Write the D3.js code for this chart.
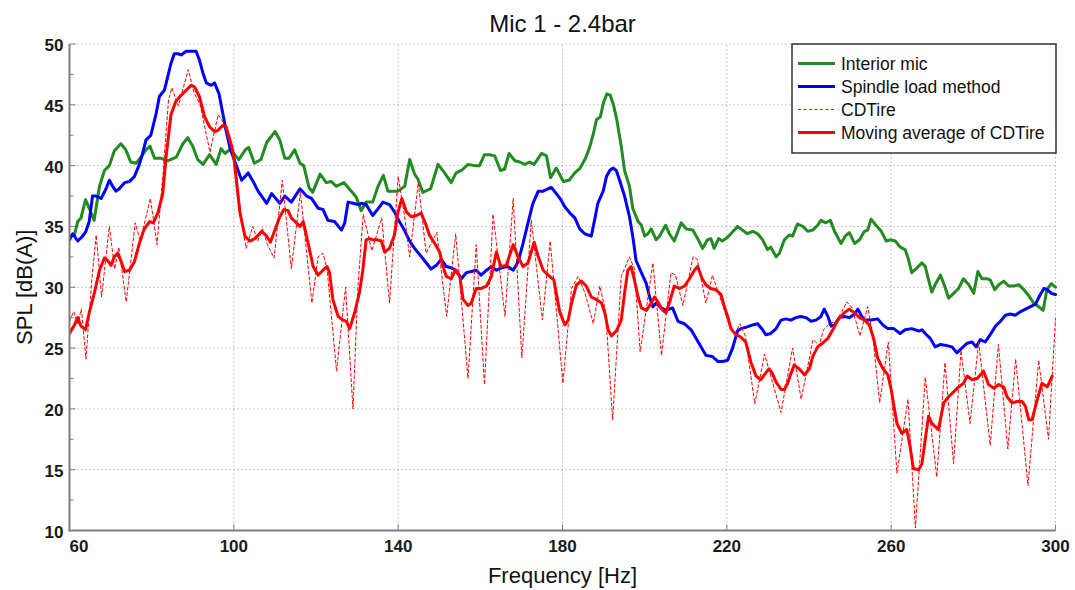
<!DOCTYPE html>
<html>
<head>
<meta charset="utf-8">
<script src="https://cdn.jsdelivr.net/npm/d3@7"></script>
<style>
  html, body { margin: 0; padding: 0; background: #ffffff; }
  svg { display: block; }
</style>
</head>
<body>
<div id="chart"></div>
<script>
// ---------------- DATA ----------------
const chartTitle = "Mic 1 - 2.4bar";
const xLabel = "Frequency [Hz]";
const yLabel = "SPL [dB(A)]";
const xTicks = [60, 100, 140, 180, 220, 260, 300];
const yTicks = [10, 15, 20, 25, 30, 35, 40, 45, 50];
const seriesNames = ["Interior mic", "Spindle load method", "CDTire", "Moving average of CDTire"];

const micFreq = [60,61.2,62,62.8,63.9,64.8,66,67.3,68.5,69.7,70.9,72.5,73.7,74.9,76.2,77.4,78.6,79.6,80.7,82.3,83.9,86,87.6,88.8,90,91.2,92.5,94.1,95.7,96.9,97.8,99,100.2,101.2,102.8,103.6,105,106.6,108,110,111.2,112.4,113.4,114.8,116.1,117,118.3,119.2,121,122.5,123.7,124.9,126.8,128.6,129.8,131,132.2,133.8,135.1,136.4,137.5,138.7,140,141.6,142.8,144,144.8,146,147.9,149.7,151.3,152.9,154.1,155.4,157,158.6,159.8,161,162.3,163.5,164.9,165.9,167,168.4,169.6,170.8,172,173.1,174.9,176.1,177.1,178.5,180.2,181.6,183,184.3,185.6,186.6,187.5,188.3,189.2,190,190.8,191.6,192.4,193.2,194.3,195.1,196.3,197.1,198.4,199.2,200,200.8,201.6,202.8,203.6,205.1,206,207.2,208.9,210.1,211.7,212.9,214.1,215.3,216.1,216.9,218,218.9,219.8,221,222.6,223.8,225,226.3,227.5,228.7,229.9,230.7,232,232.8,234,235.2,236,237.2,238.5,239.7,240.9,242.1,242.9,244.1,245.2,246.2,247.8,248.8,249.8,251.1,252.3,253.5,254.3,255.1,256.3,257.6,258.8,259.8,261,262.2,263.4,264.2,265,266.3,267.5,268.3,269.1,269.9,270.7,272,272.8,274,275.2,276.4,277.6,278.9,280.1,281.1,282.1,283.3,284.1,285.2,286.2,287.4,288.6,289.8,291.1,292.3,293.5,294.7,295.9,297,297.9,299,300];
const micSpl = [34.2,34.3,35.4,35.7,37.2,36.5,35.5,38.3,39.6,40.0,41.2,41.8,41.3,40.3,40.2,40.7,41.3,41.6,40.6,40.6,40.4,40.7,41.8,42.3,41.6,40.5,40.1,40.9,40.1,41.4,41.0,41.3,40.9,40.5,41.3,41.5,40.2,40.5,41.9,42.8,42.1,40.6,40.6,41.3,40.2,40.0,38.2,37.8,39.3,38.6,38.7,38.3,38.6,37.9,37.4,36.3,37.0,37.0,38.3,39.2,37.9,37.9,37.9,38.3,40.5,39.3,38.9,37.8,38.1,40.1,39.4,38.6,39.4,39.6,40.1,40.0,40.0,40.9,40.9,40.8,39.6,39.7,41.0,40.4,40.3,40.1,40.3,40.1,41.0,40.8,39.0,39.8,38.7,38.8,39.4,39.8,40.6,41.5,42.6,43.8,44.0,45.2,45.9,45.8,45.0,43.8,41.6,39.6,38.3,36.5,35.4,35.1,34.2,34.4,34.8,33.9,34.2,35.1,34.4,33.8,35.3,34.8,34.7,34.0,33.2,33.9,34.0,33.2,34.0,33.8,34.0,34.4,35.0,34.7,34.4,34.6,34.4,33.9,33.1,33.3,32.5,32.8,33.9,34.3,34.2,35.2,35.0,34.6,34.7,35.1,35.5,35.3,35.5,34.6,33.6,34.2,34.5,33.6,33.9,34.6,34.7,35.6,35.1,34.6,33.8,33.9,33.8,33.3,33.1,32.3,31.2,31.6,32.0,31.7,30.6,29.6,30.2,31.0,30.3,29.1,29.5,29.9,30.7,30.2,29.5,31.3,30.7,30.7,30.6,29.8,30.2,30.5,30.1,30.1,30.2,29.8,29.3,28.7,28.4,28.1,29.8,30.3,30.0];

const spindleFreq = [60,60.8,62,63.2,64,64.8,65.6,66.5,67.7,68.9,69.7,70.5,71.3,72.1,73.4,74.6,75.8,77,77.8,78.6,79.8,81.1,81.9,83.1,83.9,84.7,85.5,86.4,87.2,88.4,89.6,90.8,91.6,92.5,93.3,94.5,95.3,96.4,97.3,98.1,99.1,100.3,101.9,103.5,104.7,105.9,108,109.2,111.2,112.4,114,116.1,117.7,118.9,120.5,121.7,122.9,124.5,126.2,127,127.8,129,130.2,131,132.2,133.8,135,136.3,137.9,139.1,140.3,141.5,142.8,144,145.2,146.4,148,149.3,150.5,151.7,152.9,154.1,155.4,156.6,157.8,159,160.2,161.5,162.7,163.9,165.1,166.7,168,169.2,170.4,171.6,172.8,174.1,175.3,176.5,177.3,178.5,179.6,180.6,181.8,183,184.2,185.4,187,187.8,188.6,189.9,190.7,191.5,192.3,193.1,193.9,195.1,196.3,197.1,197.9,199.2,200.4,201.2,202,202.8,204,205.2,206.8,208.1,209.7,211.3,212.5,213.7,214.9,216.5,217.8,219,220.2,221.4,222.6,223.4,224.6,226.3,227.5,228.7,229.5,230.7,232,233.2,234.4,235.6,236.8,238,239.3,240.5,241.7,242.9,243.7,244.6,245.4,246.2,247.4,248.6,249.8,251.1,251.9,252.7,253.5,255.1,256.7,258,259.2,260.6,262.2,263.4,265,266.7,267.5,268.3,269.5,270.7,272,273.6,274.8,276,277.2,278.5,279.7,280.7,281.7,282.9,284.1,285.4,286.6,287.8,289,290.2,291.5,292.7,293.9,295.1,296.3,297.2,298,299,300];
const spindleSpl = [33.9,34.4,33.8,34.2,34.6,35.4,37.5,37.5,37.3,38.1,38.8,38.3,37.9,38.1,38.6,38.7,39.1,40.1,41.0,42.1,42.5,44.3,45.7,46.2,47.3,48.4,49.2,49.2,49.1,49.4,49.4,49.4,48.7,47.6,46.8,46.6,46.8,45.9,44.3,42.9,41.4,40.3,38.8,39.4,38.7,37.9,36.9,37.7,36.9,37.5,37.0,38.1,37.5,37.3,36.5,36.4,35.5,35.4,34.7,35.3,37.0,36.9,36.8,36.9,36.8,35.9,36.4,37.0,36.8,36.2,35.4,34.7,33.8,33.2,32.7,32.2,31.5,31.8,32.3,31.7,31.6,31.4,30.7,31.2,31.3,31.4,31.0,31.4,31.7,31.4,31.6,31.7,31.4,32.1,33.6,35.3,36.9,37.9,37.9,38.1,38.2,37.7,37.2,36.6,36.1,35.7,34.8,34.4,34.2,35.5,36.9,37.9,39.1,39.6,39.8,39.6,38.8,37.5,35.8,34.2,32.2,31.2,30.3,29.2,28.4,28.7,28.3,28.1,28.3,27.2,27.0,26.5,25.8,25.1,24.4,24.3,23.9,23.9,24.0,25.0,26.4,26.6,26.7,26.9,27.0,26.5,26.1,26.2,26.6,27.3,27.4,27.3,27.5,27.6,27.5,27.2,27.3,27.6,28.2,27.6,26.8,26.9,27.5,27.6,27.5,27.8,28.2,27.7,27.3,27.3,27.4,26.9,26.6,26.6,26.2,26.5,26.6,26.4,26.5,26.2,25.8,25.1,25.3,25.2,25.1,24.6,25.0,25.4,25.5,25.1,25.7,25.5,26.1,26.8,27.2,27.7,27.8,27.7,28.0,28.2,28.4,28.6,29.4,29.9,29.8,29.5,29.4];

const cdtireFreq = [60,61,62,62.9,64,65.4,66.5,67.8,69.7,71,72,73.8,76,77.2,79.7,81.3,82.8,84.1,84.9,86.5,88.9,90.3,91.8,94.2,96.2,97.5,98.5,99.6,100.5,101.8,103,104.6,105.8,107,108.2,109.8,111.8,114,116.2,119,120.5,121.7,122.7,125,127.2,129,130.2,131.5,133.6,136,137.9,140,141.5,142.8,144.9,146.8,149.4,151.8,154,157,159,161,163.1,166,168,170.1,172.4,175.1,177,180.1,182.2,183.8,185.5,187.5,189.1,190.5,192.2,194.3,196.3,197.5,198.9,202,204.1,206.4,207.5,209.3,211.8,212.8,214.9,216.5,217.5,219,220.5,222,223.2,224.5,226.8,229.2,233.2,236,238.1,241,242.5,243.5,245,246.5,248,249.2,250.5,252.4,254.3,255.5,257.2,259.3,261.4,264.1,265.9,268.3,271.1,273.1,275.2,277,279.2,281.3,284.1,286.1,288.4,290.3,293.3,295.9,298.3,300];
const cdtireSpl = [27.2,28.0,27.0,28.2,24.1,30.5,34.3,29.2,35.0,31.5,33.3,28.8,35.3,33.8,37.3,33.5,39.5,45.4,46.4,44.9,47.9,46.0,45.0,41.1,44.2,43.5,42.8,41.5,40.0,35.5,33.2,35.0,33.8,34.8,33.5,32.4,38.8,31.5,37.8,28.7,32.5,32.8,31.5,23.1,30.0,20.0,30.0,36.0,33.0,35.7,28.7,39.1,36.0,32.5,38.6,32.8,34.5,27.6,34.4,22.5,33.5,22.0,36.0,27.6,37.3,24.2,35.5,27.3,33.8,22.1,29.9,30.9,29.5,27.0,30.1,28.0,19.1,30.9,32.5,31.5,24.7,32.0,24.4,31.2,31.0,28.5,32.5,32.3,28.7,31.0,30.0,28.5,27.0,26.2,27.0,26.0,20.4,24.5,19.7,25.0,20.8,25.7,25.2,26.5,27.0,27.2,28.0,28.8,28.3,26.0,28.4,26.0,20.5,25.5,14.7,20.8,10.2,22.6,14.4,23.8,15.5,24.8,18.8,25.5,17.0,25.3,16.7,24.1,13.7,24.0,17.5,27.4];

const avgFreq = [60,61.2,62,62.8,63.9,64.8,66.1,67.3,68.5,69.3,70.1,70.9,71.7,72.6,73.4,74.6,75.8,77,78.2,79.5,80.4,81.5,82.7,83.5,84.7,85.9,87.2,88.4,89.6,90.4,91.6,92.9,94.1,95.3,96.1,97.3,98.1,99.3,99.9,100.7,101.5,102.7,103.9,105.1,106.8,108,108.9,110,111.2,112.2,113.2,114,115.2,116.1,116.9,118.1,119.3,120.5,121.7,122.7,123.3,124.1,125.4,126.6,127.4,128.2,129.4,130.6,131.4,132.2,133,133.8,135,135.9,136.7,137.9,139.1,139.9,140.9,142,143.2,144.4,145.6,146.8,147.6,148.9,150.1,150.9,151.7,152.9,153.9,155,155.8,157,157.8,159,160.2,161.5,162.7,163.9,165,166.3,168,169.2,170.4,171.6,173.1,174.1,175.3,176.5,177.9,179.3,180.6,181.4,182.2,183.4,184.6,185.8,187,188.2,189.5,190.3,191.1,191.9,193.1,194.3,195.1,195.9,196.7,197.5,198.4,199.2,200.4,201.6,202.4,203.2,204.4,205.2,206,207.2,208.5,209.7,210.9,212.1,212.9,214,214.9,216.1,217.3,218.6,219.4,220.2,221,222.2,223.4,224.6,225.9,227.1,228.3,229.1,230.3,231.1,232,233.2,234,234.8,235.6,236.4,237.6,238.9,240.1,240.9,242.1,243.3,244.6,245.8,247,248.6,249.8,251.1,252.3,253.5,254.7,255.8,256.7,258,259.2,260,260.7,261.4,262.6,263.8,264.6,265.4,266.7,267.5,268.3,269.1,269.9,271.5,272.8,274,275.2,276.4,277.6,278.5,279.7,280.9,282.5,283.7,285,286.2,287.4,288.2,289.4,290.7,291.9,292.7,293.5,294.3,295.5,296.7,298,299.2];
const avgSpl = [26.2,26.9,27.5,26.8,26.5,27.9,29.6,31.4,32.4,32.2,31.8,32.5,32.8,32.1,31.3,31.4,32.1,33.6,34.8,35.4,35.3,36.1,37.7,40.7,44.2,45.3,45.8,46.2,46.6,46.5,45.7,44.0,43.2,42.8,42.9,43.3,43.2,41.8,41.0,38.5,36.1,34.2,33.8,34.0,34.6,34.2,33.7,34.7,35.8,36.4,36.3,35.7,35.3,35.0,35.4,33.6,31.7,31.0,31.4,31.7,31.2,29.0,27.6,27.3,27.2,26.6,27.9,29.6,31.4,33.9,34.0,33.9,33.9,33.8,32.9,33.2,34.3,36.1,37.3,36.2,35.8,35.9,36.1,35.1,34.3,33.6,32.9,31.7,30.9,30.7,31.4,30.9,29.0,28.5,28.7,29.9,29.9,30.1,30.9,32.9,31.7,31.8,33.5,32.5,31.7,32.0,33.7,32.5,31.4,31.0,30.6,28.0,26.9,27.3,28.7,30.2,30.5,30.1,29.2,29.0,28.7,27.9,26.5,26.0,26.4,27.3,29.5,31.4,31.7,30.6,29.2,28.3,28.1,28.7,29.2,28.8,28.1,27.9,28.7,30.1,29.9,30.1,30.7,31.4,31.7,30.7,30.2,29.9,29.8,29.4,28.4,27.6,26.6,26.1,25.9,25.5,23.8,22.7,22.4,22.8,23.3,22.9,22.2,21.6,21.6,22.1,22.9,23.6,23.3,22.8,23.3,24.3,25.1,25.4,25.8,26.5,27.3,27.9,28.2,27.9,27.5,27.3,26.9,25.7,24.2,23.3,22.8,21.6,20.2,18.8,18.0,18.3,16.9,15.1,15.0,15.5,17.5,19.4,18.8,18.3,20.5,21.0,21.4,21.8,22.1,22.7,22.4,22.5,23.1,22.0,21.7,22.0,21.8,21.0,20.5,20.6,20.6,20.2,19.1,19.1,20.7,22.1,21.8,22.7];

// ---------------- LAYOUT ----------------
const W = 1075, H = 590;
const margin = { left: 69.5, right: 1075 - 1055.5, top: 44, bottom: 590 - 530.5 };
const colors = { mic: "#228b22", spindle: "#0000ff", cd: "#ff0000" };
const gridColor = "#a0a0a0";
const axisColor = "#7f7f7f";

const svg = d3.select("#chart").append("svg")
  .attr("width", W).attr("height", H)
  .style("font-family", "'Liberation Sans', Arial, sans-serif");

const x = d3.scaleLinear().domain([60, 300]).range([margin.left, W - margin.right]);
const y = d3.scaleLinear().domain([10, 50]).range([H - margin.bottom, margin.top]);

// grid
const grid = svg.append("g");
grid.selectAll("line.vg").data(xTicks.filter(d => d !== 60)).join("line")
  .attr("x1", d => x(d)).attr("x2", d => x(d))
  .attr("y1", y(10)).attr("y2", y(50))
  .attr("stroke", gridColor).attr("stroke-width", 1).attr("stroke-dasharray", "1.2,2.8");
grid.selectAll("line.hg").data(yTicks.filter(d => d !== 10)).join("line")
  .attr("x1", x(60)).attr("x2", x(300))
  .attr("y1", d => y(d)).attr("y2", d => y(d))
  .attr("stroke", gridColor).attr("stroke-width", 1).attr("stroke-dasharray", "1.2,2.8");

// minor y ticks
const minorY = d3.range(12.5, 50, 5);
svg.append("g").selectAll("line").data(minorY).join("line")
  .attr("x1", x(60)).attr("x2", x(60) + 4)
  .attr("y1", d => y(d)).attr("y2", d => y(d))
  .attr("stroke", axisColor).attr("stroke-width", 1);
svg.append("g").selectAll("line").data(yTicks).join("line")
  .attr("x1", x(60)).attr("x2", x(60) + 6)
  .attr("y1", d => y(d)).attr("y2", d => y(d))
  .attr("stroke", axisColor).attr("stroke-width", 1);
svg.append("g").selectAll("line").data(xTicks).join("line")
  .attr("x1", d => x(d)).attr("x2", d => x(d))
  .attr("y1", y(10)).attr("y2", y(10) - 6)
  .attr("stroke", axisColor).attr("stroke-width", 1);

// clip
svg.append("clipPath").attr("id", "plotclip").append("rect")
  .attr("x", x(60)).attr("y", y(50) - 3)
  .attr("width", x(300) - x(60) + 2).attr("height", y(10) - y(50) + 3);

const plot = svg.append("g").attr("clip-path", "url(#plotclip)");
function drawSeries(fr, vals, color, width, dash) {
  const pts = fr.map((f, i) => [f, vals[i]]);
  const line = d3.line().x(d => x(d[0])).y(d => y(d[1])).curve(d3.curveLinear);
  plot.append("path").datum(pts)
    .attr("d", line).attr("fill", "none")
    .attr("stroke", color).attr("stroke-width", width)
    .attr("stroke-linejoin", "round").attr("stroke-linecap", "round")
    .attr("stroke-dasharray", dash || null);
}
drawSeries(micFreq, micSpl, colors.mic, 3);
drawSeries(spindleFreq, spindleSpl, colors.spindle, 3);
drawSeries(cdtireFreq, cdtireSpl, colors.cd, 1, "3,2.5");
drawSeries(avgFreq, avgSpl, colors.cd, 3);

// axes spines
svg.append("line").attr("x1", x(60)).attr("x2", x(60)).attr("y1", y(50)).attr("y2", y(10) + 1)
  .attr("stroke", axisColor).attr("stroke-width", 2);
svg.append("line").attr("x1", x(60) - 1).attr("x2", x(300)).attr("y1", y(10)).attr("y2", y(10))
  .attr("stroke", axisColor).attr("stroke-width", 2);

// tick labels
const tickFont = 17;
svg.append("g").selectAll("text").data(yTicks).join("text")
  .attr("x", x(60) - 6).attr("y", d => y(d) + 7)
  .attr("text-anchor", "end")
  .attr("font-size", tickFont).attr("font-weight", "bold").attr("fill", "#1a1a1a")
  .text(d => d);
svg.append("g").selectAll("text").data(xTicks).join("text")
  .attr("x", d => d === 60 ? x(d) : x(d)).attr("y", y(10) + 21)
  .attr("text-anchor", d => d === 60 ? "start" : "middle")
  .attr("font-size", tickFont).attr("font-weight", "bold").attr("fill", "#1a1a1a")
  .text(d => d);

// title & axis labels
svg.append("text").attr("x", (x(60) + x(300)) / 2).attr("y", 32)
  .attr("text-anchor", "middle").attr("font-size", 24).attr("fill", "#111").text(chartTitle);
svg.append("text").attr("x", (x(60) + x(300)) / 2).attr("y", 583)
  .attr("text-anchor", "middle").attr("font-size", 22).attr("fill", "#111").text(xLabel);
svg.append("text")
  .attr("transform", `translate(32, ${(y(10) + y(50)) / 2}) rotate(-90)`)
  .attr("text-anchor", "middle").attr("font-size", 22).attr("fill", "#111").text(yLabel);

// legend
const lg = svg.append("g");
lg.append("rect").attr("x", 792).attr("y", 44).attr("width", 264).attr("height", 109)
  .attr("fill", "#ffffff").attr("stroke", "#333333").attr("stroke-width", 1.5);
const legendItems = [
  { name: seriesNames[0], color: colors.mic, w: 3, dash: null },
  { name: seriesNames[1], color: colors.spindle, w: 3, dash: null },
  { name: seriesNames[2], color: colors.cd, w: 1, dash: "3,2.5" },
  { name: seriesNames[3], color: colors.cd, w: 3, dash: null }
];
legendItems.forEach((it, i) => {
  const cy = 63.5 + i * 23;
  lg.append("line").attr("x1", 798).attr("x2", 835).attr("y1", cy).attr("y2", cy)
    .attr("stroke", it.color).attr("stroke-width", it.w).attr("stroke-dasharray", it.dash);
  lg.append("text").attr("x", 841).attr("y", cy + 6.5)
    .attr("font-size", 17.5).attr("fill", "#111").text(it.name);
});
</script>
</body>
</html>
